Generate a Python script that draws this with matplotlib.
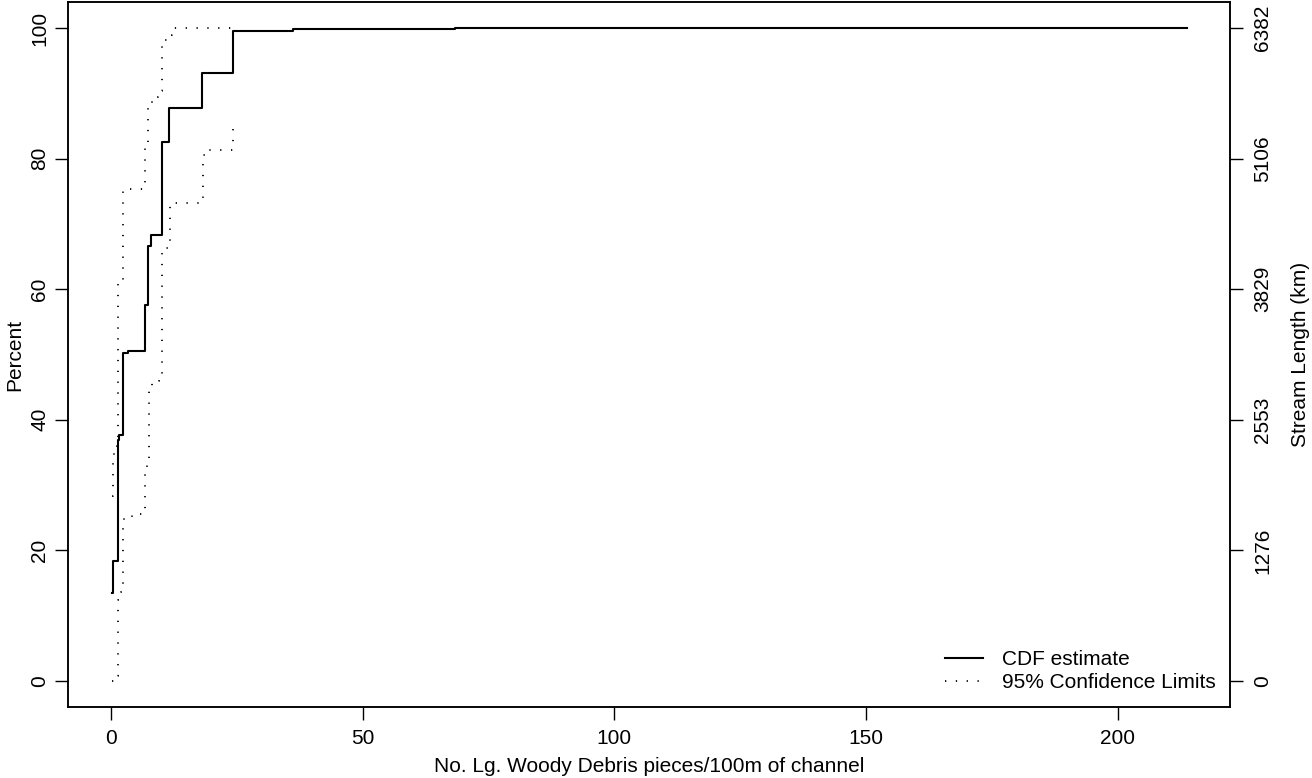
import matplotlib
matplotlib.use("Agg")
import matplotlib.pyplot as plt

plt.rcParams['font.family'] = ['Liberation Sans', 'DejaVu Sans']

# CDF estimate (x = pieces/100m, y = percent), step function
cdf_x = [0.13, 0.46, 1.3, 1.6, 2.35, 3.4, 6.8, 7.4, 8.0, 10.2, 11.5, 18.1, 24.3, 36.2, 68.4, 213.8]
cdf_y = [13.5, 18.3, 36.9, 37.6, 50.2, 50.6, 57.6, 66.6, 68.3, 82.6, 87.7, 93.1, 99.6, 99.85, 100.0, 100.0]

# Upper 95% confidence limit
up_x = [0.13, 0.46, 1.1, 1.45, 2.45, 6.76, 7.4, 8.2, 9.4, 10.2, 11.5, 12.1, 24.3]
up_y = [28.4, 34.7, 36.0, 60.9, 75.3, 82.1, 88.5, 89.5, 90.4, 98.2, 99.0, 100.0, 100.0]

# Lower 95% confidence limit
lo_x = [0.13, 1.0, 1.3, 2.0, 2.45, 2.6, 4.2, 6.76, 7.2, 7.55, 8.1, 9.5, 10.1, 11.7, 18.2, 18.6, 24.3]
lo_y = [0.0, 0.8, 12.4, 13.6, 23.4, 25.0, 25.6, 31.9, 33.5, 44.8, 46.0, 46.7, 66.3, 73.2, 80.6, 81.3, 86.0]

x_ticks = [0, 50, 100, 150, 200]
pct_ticks = [0, 20, 40, 60, 80, 100]
km_labels = ['0', '1276', '2553', '3829', '5106', '6382']

fs = 15
W, H = 1312, 778
fig = plt.figure(figsize=(W / 100, H / 100), dpi=100)
ax = fig.add_axes([68 / W, 1 - 707 / H, (1230 - 68) / W, (707 - 2) / H])

dot_style = (0, (0.7, 5.3))
ax.plot(cdf_x, cdf_y, drawstyle='steps-post', color='black', lw=1.5, label='CDF estimate')
ax.plot(up_x, up_y, drawstyle='steps-post', color='black', lw=1.3,
        linestyle=dot_style, label='95% Confidence Limits')
ax.plot(lo_x, lo_y, drawstyle='steps-post', color='black', lw=1.3,
        linestyle=dot_style)

xmax = cdf_x[-1]
ax.set_xlim(-0.04 * xmax, xmax * 1.04)
ax.set_ylim(-4, 104)
ax.set_xticks(x_ticks)
ax.set_yticks(pct_ticks)
ax.set_yticklabels([str(t) for t in pct_ticks], rotation=90, va='center')
ax.tick_params(axis='both', labelsize=fs, length=9.5, width=1.0, direction='out')
ax.tick_params(axis='x', pad=6)
ax.tick_params(axis='y', pad=4)
for s in ax.spines.values():
    s.set_linewidth(1.1)

ax.set_xlabel('No. Lg. Woody Debris pieces/100m of channel', fontsize=fs, labelpad=7)
ax.set_ylabel('Percent', fontsize=fs, labelpad=4)

ax2 = ax.twinx()
ax2.set_ylim(-4, 104)
ax2.set_yticks(pct_ticks)
ax2.set_yticklabels(km_labels, rotation=90, va='center')
ax2.tick_params(axis='y', labelsize=fs, length=9.5, width=1.0, direction='out', pad=7)
ax2.set_ylabel('Stream Length (km)', fontsize=fs, labelpad=14)
for s in ax2.spines.values():
    s.set_linewidth(1.1)

ax.legend(loc='lower right', frameon=False, fontsize=fs, handlelength=1.8,
          handletextpad=0.9, labelspacing=0.22, borderaxespad=0.3,
          bbox_to_anchor=(1.0, 0.0))

fig.savefig('out.png', dpi=100)
